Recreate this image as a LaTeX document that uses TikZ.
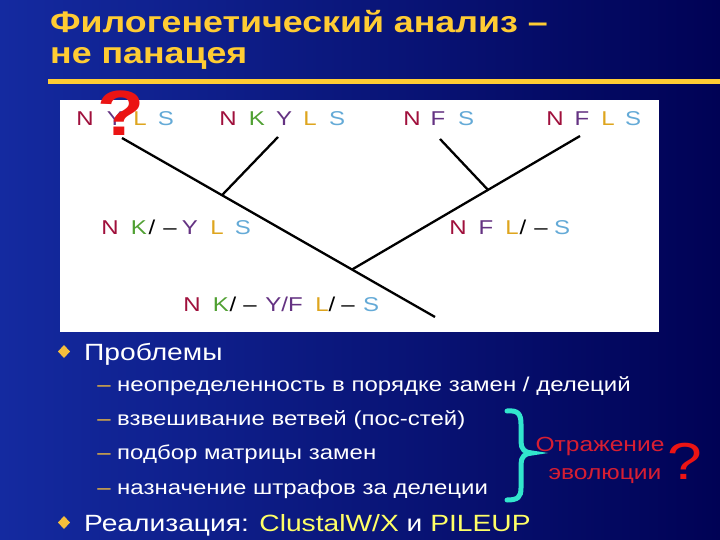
\documentclass[tikz,border=0pt]{standalone}
\usepackage{fontspec}
\setmainfont{Liberation Sans}[FakeStretch=1.2]
\usetikzlibrary{calc}
\definecolor{bgL}{RGB}{20,42,160}
\definecolor{bgR}{RGB}{0,2,85}
\definecolor{ttl}{RGB}{255,204,51}
\definecolor{cN}{RGB}{160,16,60}
\definecolor{cK}{RGB}{80,160,50}
\definecolor{cY}{RGB}{100,50,130}
\definecolor{cL}{RGB}{222,165,30}
\definecolor{cS}{RGB}{100,170,215}
\definecolor{qred}{RGB}{235,20,20}
\definecolor{rtxt}{RGB}{215,30,50}
\definecolor{brc}{RGB}{50,230,205}
\definecolor{yel}{RGB}{255,255,102}
\definecolor{gold}{RGB}{245,190,60}
\newcommand\slsh{/}
\newcommand\fsz[1]{\fontsize{#1}{#1}\selectfont}
\begin{document}
\begin{tikzpicture}[x=1pt,y=-1pt,
  seq/.style={anchor=base,inner sep=0,font=\fsz{20}},
  ttlnode/.style={anchor=base west,inner sep=0,text=ttl,font=\fsz{29.8}\bfseries},
  branch/.style={line width=2.3pt,black},
  bigitem/.style={anchor=base west,inner sep=0,text=white,font=\fsz{23.5}},
  subitem/.style={anchor=base west,inner sep=0,text=white,font=\fsz{20}},
  subdash/.style={anchor=base,inner sep=0,text=gold,font=\fsz{20}},
  redtxt/.style={anchor=base,inner sep=0,text=rtxt,font=\fsz{20.5}}]
\useasboundingbox (0,0) rectangle (720,540);
\shade[left color=bgL,right color=bgR] (0,0) rectangle (720,540);
% title
\node[ttlnode] (t1) at (50,33) {Филогенетический анализ –};
\node[ttlnode] (t2) at (50,64) {не панацея};
\draw[ttl,line width=5pt] (48,82) -- (720,82);
% white panel
\fill[white] (60,100) rectangle (659,332);
% leaves
\foreach \x/\c/\t [count=\i] in {85/cN/N,115/cY/Y,140/cL/L,166/cS/S}
  \node[seq,text=\c] (a\i) at (\x,125.5) {\t};
\foreach \x/\c/\t [count=\i] in {228/cN/N,257/cK/K,284/cY/Y,310/cL/L,337/cS/S}
  \node[seq,text=\c] (b\i) at (\x,125.5) {\t};
\foreach \x/\c/\t [count=\i] in {412/cN/N,438/cY/F,466/cS/S}
  \node[seq,text=\c] (c\i) at (\x,125.5) {\t};
\foreach \x/\c/\t [count=\i] in {555/cN/N,582/cY/F,608/cL/L,633/cS/S}
  \node[seq,text=\c] (d\i) at (\x,125.5) {\t};
% internal labels
\foreach \x/\c/\t [count=\i] in {110/cN/N,139/cK/K,152/black/\slsh,170/black/–,190/cY/Y,217/cL/L,243/cS/S}
  \node[seq,text=\c] (e\i) at (\x,235) {\t};
\foreach \x/\c/\t [count=\i] in {458/cN/N,486/cY/F,512/cL/L,523/black/\slsh,541/black/–,562/cS/S}
  \node[seq,text=\c] (f\i) at (\x,235) {\t};
\foreach \x/\c/\t [count=\i] in {192/cN/N,221/cK/K,233/black/\slsh,250/black/–,284/cY/Y\slsh F,322/cL/L,332/black/\slsh,348/black/–,371/cS/S}
  \node[seq,text=\c] (g\i) at (\x,311.5) {\t};
% question mark over first leaf
\node[anchor=center,inner sep=0,text=qred,font=\fsz{64}\bfseries] (q1) at (121,113) {?};
% tree branches
\coordinate (la) at (122,138);
\coordinate (lb) at (278,137);
\coordinate (lc) at (440,139);
\coordinate (ld) at (580,136);
\coordinate (rt) at (435,317);
\coordinate (j1) at ($(la)!{100/313}!(rt)$);
\coordinate (j2) at ($(la)!{230/313}!(rt)$);
\coordinate (j3) at ($(ld)!{92/228}!(j2)$);
\draw[branch] (la) -- (rt);
\draw[branch] (lb) -- (j1);
\draw[branch] (ld) -- (j2);
\draw[branch] (lc) -- (j3);
% bullets
\fill[gold] (64,345) -- (70,351.5) -- (64,358) -- (58,351.5) -- cycle;
\node[bigitem] (p1) at (84,360) {Проблемы};
\node[subdash] (d1) at (104,391) {–};
\node[subitem] (s1) at (117,391) {неопределенность в порядке замен / делеций};
\node[subdash] (d2) at (104,425) {–};
\node[subitem] (s2) at (117,425) {взвешивание ветвей (пос-стей)};
\node[subdash] (d3) at (104,459) {–};
\node[subitem] (s3) at (117,459) {подбор матрицы замен};
\node[subdash] (d4) at (104,494) {–};
\node[subitem] (s4) at (117,494) {назначение штрафов за делеции};
\fill[gold] (64,516) -- (70,522.5) -- (64,529) -- (58,522.5) -- cycle;
\node[bigitem] (p2) at (84,531) {Реализация: \textcolor{yel}{ClustalW/X} и \textcolor{yel}{PILEUP}};
% brace
\draw[brc,line width=5pt,line cap=round]
  (507,411) .. controls (518,410) and (521,414) .. (521,424) -- (521,442)
  .. controls (521,449) and (525,453) .. (532,453)
  .. controls (525,453) and (521,457) .. (521,464) -- (521,488)
  .. controls (521,497) and (518,500) .. (507,500);
\node[redtxt] (r1) at (600,451) {Отражение};
\node[redtxt] (r2) at (605,479) {эволюции};
\node[anchor=center,inner sep=0,text=qred,font=\fsz{52}] (q2) at (685,461) {?};
\end{tikzpicture}
\end{document}
